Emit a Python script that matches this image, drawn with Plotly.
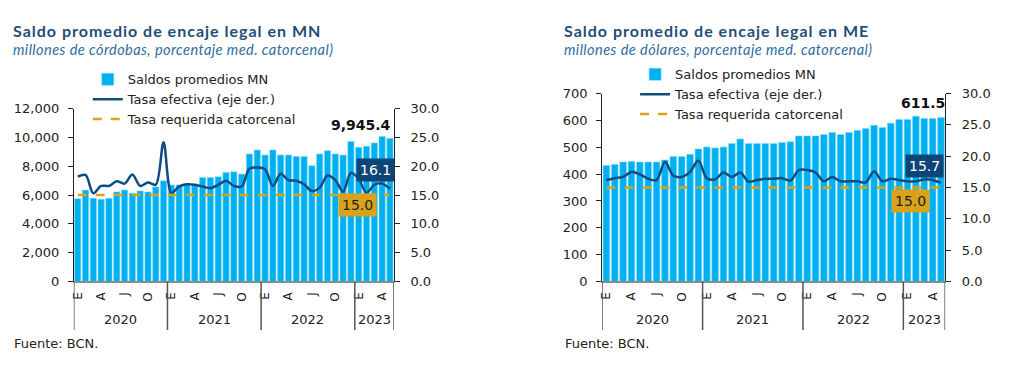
import plotly.graph_objects as go

# ---------------- data ----------------
months = list(range(41))  # Jan 2020 .. May 2023
month_tickvals = [0, 3, 6, 9, 12, 15, 18, 21, 24, 27, 30, 33, 36, 39]
month_ticktext = ["E", "A", "J", "O", "E", "A", "J", "O", "E", "A", "J", "O", "E", "A"]
years = ["2020", "2021", "2022", "2023"]
year_centers = [5.5, 17.5, 29.5, 38.0]
year_bounds = [-0.5, 11.5, 23.5, 35.5, 40.5]

mn_saldo = [5750, 6350, 5780, 5710, 5780, 6220, 6360, 6130, 6290, 6220, 6570, 6990,
            6710, 6710, 6760, 6760, 7230, 7230, 7270, 7580, 7620, 7460, 8860, 9140,
            8790, 9140, 8790, 8790, 8690, 8690, 8040, 8860, 9090, 8860, 8790, 9720,
            9320, 9390, 9630, 10070, 9945.4]
mn_tasa = [18.2, 18.5, 15.3, 16.6, 16.6, 17.4, 17.0, 18.6, 16.6, 17.2, 16.8, 24.2,
           15.4, 16.5, 16.9, 16.8, 16.5, 16.2, 16.8, 17.5, 16.6, 16.5, 19.6, 19.8,
           19.5, 16.6, 18.7, 17.6, 17.5, 16.9, 15.7, 16.3, 18.4, 17.6, 15.6, 18.9,
           17.8, 15.4, 16.8, 17.0, 16.1]
mn_requerida = [15.0] * 41

me_saldo = [432.5, 436, 445, 447.5, 445, 445, 445, 452.5, 466, 466, 474, 494,
            501, 497.5, 501, 514, 531, 514, 514, 514, 514, 517.5, 521, 542.5,
            542.5, 542.5, 547.5, 555, 547.5, 555, 562.5, 570, 582.5, 574, 590, 604,
            604, 616, 607.5, 607.5, 611.5]
me_tasa = [16.2, 16.5, 16.7, 17.5, 17.1, 16.4, 16.2, 19.1, 16.9, 16.7, 17.5, 19.3,
           16.5, 16.3, 17.4, 16.7, 17.4, 15.9, 16.2, 16.4, 16.4, 16.5, 16.1, 17.8,
           17.8, 17.4, 16.0, 16.7, 16.0, 16.0, 16.0, 15.8, 17.6, 16.0, 16.4, 16.2,
           16.0, 16.0, 16.3, 16.2, 15.7]
me_requerida = [15.0] * 41

# ---------------- style ----------------
BAR = "#00B0F0"
LINE = "#0F4C81"
GOLD = "#D9A21B"
NAVY = "#0E4577"
TITLE = "#1F4E79"
SUB = "#2E6DA4"
TXT = "#222222"
TICKFONT = dict(family="DejaVu Sans", size=13, color=TXT)

OFF = 8                      # page body margin
W, H = 1009 - 2 * OFF, 373 - 2 * OFF
SY, OY = 0.9487, 17.0        # observed vertical mapping of the page photo


def px(xp):
    return (xp - OFF) / W


def py(yp):
    return 1 - (yp / SY - OY) / H


fig = go.Figure()

bar_marker = dict(color=BAR, line=dict(color="#7FD6F7", width=0.6))
# left chart
fig.add_trace(go.Bar(x=months, y=mn_saldo, name="Saldos promedios MN", marker=bar_marker,
                     xaxis="x", yaxis="y", legend="legend"))
fig.add_trace(go.Scatter(x=months, y=mn_tasa, name="Tasa efectiva (eje der.)", mode="lines",
                         line=dict(color=LINE, width=2.5, shape="spline", smoothing=0.9),
                         xaxis="x", yaxis="y2", legend="legend"))
fig.add_trace(go.Scatter(x=months, y=mn_requerida, name="Tasa requerida catorcenal", mode="lines",
                         line=dict(color=GOLD, width=2.5, dash="dash"),
                         xaxis="x", yaxis="y2", legend="legend"))
# right chart
fig.add_trace(go.Bar(x=months, y=me_saldo, name="Saldos promedios MN", marker=bar_marker,
                     xaxis="x2", yaxis="y3", legend="legend2"))
fig.add_trace(go.Scatter(x=months, y=me_tasa, name="Tasa efectiva (eje der.)", mode="lines",
                         line=dict(color=LINE, width=2.5, shape="spline", smoothing=0.9),
                         xaxis="x2", yaxis="y4", legend="legend2"))
fig.add_trace(go.Scatter(x=months, y=me_requerida, name="Tasa requerida catorcenal", mode="lines",
                         line=dict(color=GOLD, width=2.5, dash="dash"),
                         xaxis="x2", yaxis="y4", legend="legend2"))

xcommon = dict(range=[-0.5, 40.5], tickmode="array", tickvals=month_tickvals, ticktext=month_ticktext,
               tickangle=-90, tickfont=dict(family="DejaVu Sans", size=12, color=TXT), ticks="",
               ticklabelstandoff=4,
               showline=True, linecolor="#8C8C8C", linewidth=2, showgrid=False, zeroline=False,
               fixedrange=True)
yleft = dict(showgrid=False, zeroline=False, showline=True, linecolor="#222", linewidth=1,
             ticks="outside", ticklen=5, tickcolor="#222", tickfont=TICKFONT, ticklabelstandoff=6)
yright = dict(showgrid=False, zeroline=False, showline=True, linecolor="#222", linewidth=1,
              ticks="outside", ticklen=5, tickcolor="#222", tickfont=TICKFONT, ticklabelstandoff=8,
              side="right", range=[0, 30], dtick=5, tickformat=".1f")

L_x0, L_x1, L_top = 71, 392, 109
R_x0, R_x1, R_top = 601, 945, 94
BOT = 280

legend_font = dict(family="DejaVu Sans", size=13, color=TXT)
fig.update_layout(
    width=W, height=H, margin=dict(l=0, r=0, t=0, b=0),
    paper_bgcolor="white", plot_bgcolor="white",
    bargap=0.2, barmode="group", showlegend=True,
    xaxis=dict(domain=[px(L_x0), px(L_x1)], anchor="y", **xcommon),
    yaxis=dict(domain=[py(BOT), py(L_top)], anchor="x", range=[0, 12000], dtick=2000, tickformat=",", **yleft),
    yaxis2=dict(overlaying="y", anchor="x", **yright),
    xaxis2=dict(domain=[px(R_x0), px(R_x1)], anchor="y3", **xcommon),
    yaxis3=dict(domain=[py(BOT), py(R_top)], anchor="x2", range=[0, 700], dtick=100, tickformat=",", **yleft),
    yaxis4=dict(overlaying="y3", anchor="x2", **yright),
    legend=dict(x=px(85), y=py(65), xanchor="left", yanchor="top", bgcolor="rgba(0,0,0,0)",
                font=legend_font, tracegroupgap=0, itemwidth=30),
    legend2=dict(x=px(634), y=py(60), xanchor="left", yanchor="top", bgcolor="rgba(0,0,0,0)",
                 font=legend_font, tracegroupgap=0, itemwidth=30),
)

ann = []
shapes = []
# titles
for x0, title, sub in [(12, "Saldo promedio de encaje legal en MN", "millones de córdobas, porcentaje med. catorcenal)"),
                       (565, "Saldo promedio de encaje legal en ME", "millones de dólares, porcentaje med. catorcenal)")]:
    ann.append(dict(xref="paper", yref="paper", x=px(x0), y=py(31.5), xanchor="left", yanchor="middle",
                    xshift=-3, borderpad=0,
                    text="<span style='letter-spacing:1.0px'><b>" + title + "</b></span>", showarrow=False,
                    font=dict(family="Lato", size=16, color=TITLE)))
    ann.append(dict(xref="paper", yref="paper", x=px(x0), y=py(50.5), xanchor="left", yanchor="middle",
                    xshift=-3, borderpad=0,
                    text="<span style='letter-spacing:0.45px'><i>" + sub + "</i></span>", showarrow=False,
                    font=dict(family="Lato", size=14.5, color=SUB)))
    ann.append(dict(xref="paper", yref="paper", x=px(x0), y=py(341), xanchor="left", yanchor="middle",
                    xshift=-3,
                    text="Fuente: BCN.", showarrow=False, font=dict(family="DejaVu Sans", size=13, color=TXT)))

# year labels and separators
for xa in ["x", "x2"]:
    for yr, c in zip(years, year_centers):
        ann.append(dict(xref=xa, yref="paper", x=c, y=py(318), xanchor="center", yanchor="middle",
                        text=yr, showarrow=False, font=dict(family="DejaVu Sans", size=13, color=TXT)))
    for b in year_bounds:
        shapes.append(dict(type="line", xref=xa, yref="paper", x0=b, x1=b, y0=py(BOT), y1=py(328),
                           line=dict(color="#555555", width=1.5)))

# value labels
ann.append(dict(xref="x", yref="y", x=36.3, y=10900, text="<b>9,945.4</b>", showarrow=False,
                font=dict(family="DejaVu Sans", size=14, color="#111")))
ann.append(dict(xref="x", yref="y2", x=38.1, y=19.4, text="16.1", showarrow=False, bgcolor=NAVY,
                borderpad=3, font=dict(family="DejaVu Sans", size=14, color="white")))
ann.append(dict(xref="x", yref="y2", x=35.9, y=13.3, text="15.0", showarrow=False, bgcolor=GOLD,
                borderpad=3, font=dict(family="DejaVu Sans", size=14, color="#222")))

ann.append(dict(xref="x2", yref="y3", x=37.8, y=664, text="<b>611.5</b>", showarrow=False,
                font=dict(family="DejaVu Sans", size=14, color="#111")))
ann.append(dict(xref="x2", yref="y4", x=38.0, y=18.5, text="15.7", showarrow=False, bgcolor=NAVY,
                borderpad=3, font=dict(family="DejaVu Sans", size=14, color="white")))
ann.append(dict(xref="x2", yref="y4", x=36.4, y=12.9, text="15.0", showarrow=False, bgcolor=GOLD,
                borderpad=3, font=dict(family="DejaVu Sans", size=14, color="#222")))

fig.update_layout(annotations=ann, shapes=shapes)
fig.write_html("out.html")
